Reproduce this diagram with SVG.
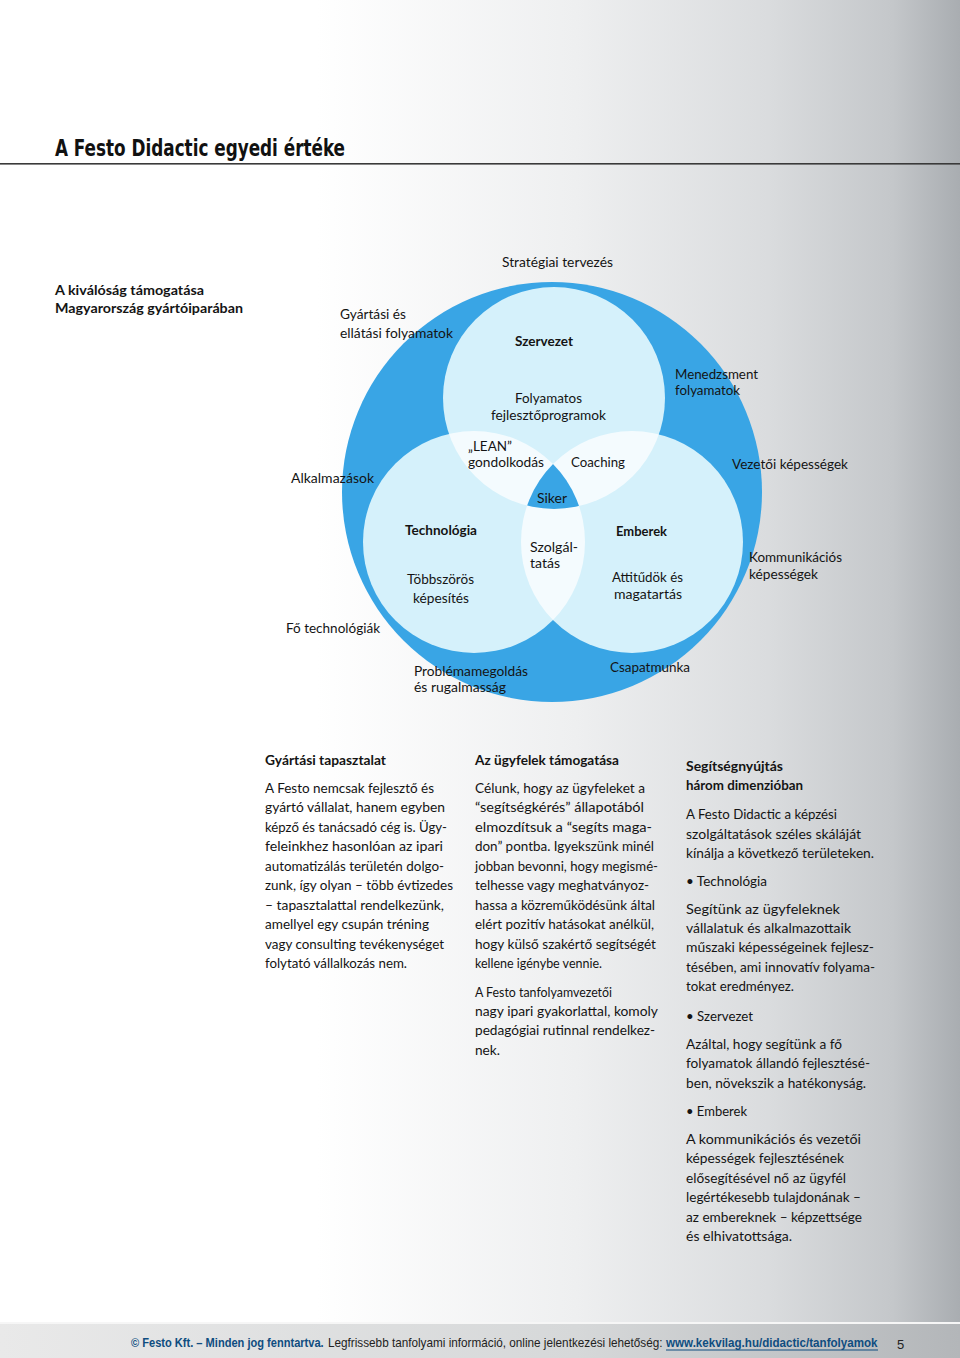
<svg xmlns="http://www.w3.org/2000/svg" width="960" height="1358" viewBox="0 0 960 1358">
<defs>
<linearGradient id="bg" x1="0" y1="0" x2="1" y2="0">
<stop offset="0" stop-color="#ffffff"/>
<stop offset="0.33" stop-color="#ffffff"/>
<stop offset="0.6" stop-color="#eeeff0"/>
<stop offset="0.8" stop-color="#dadcde"/>
<stop offset="0.93" stop-color="#c4c7ca"/>
<stop offset="1" stop-color="#a9adb1"/>
</linearGradient>
<linearGradient id="foot" x1="0" y1="0" x2="1" y2="0">
<stop offset="0" stop-color="#e9e9e9"/>
<stop offset="0.6" stop-color="#d6d8d9"/>
<stop offset="1" stop-color="#b3b6b9"/>
</linearGradient>
<clipPath id="cT"><circle cx="554" cy="398" r="111"/></clipPath>
<clipPath id="cL"><circle cx="474" cy="542" r="111"/></clipPath>
<clipPath id="cR"><circle cx="632" cy="542" r="111"/></clipPath>
<style>
text{font-family:Lato,"Liberation Sans",sans-serif;font-size:13.3px;fill:#141414}
.b{font-weight:bold}
.title{font-family:"Liberation Sans Narrow","DejaVu Sans Condensed","Liberation Sans",sans-serif;font-weight:bold;font-size:23px;fill:#111}
.ring{fill:#39a5e5}
.lt{fill:#d5f1fb}
.wh{fill:#f4fbfe}
.ft{font-family:"Liberation Sans","DejaVu Sans",sans-serif;font-size:13px;fill:#222}
.fb{font-weight:bold;fill:#0f4d80}
</style>
</defs>
<rect x="0" y="0" width="960" height="1358" fill="url(#bg)"/>
<g id="footer-band">
<rect x="0" y="1322" width="960" height="2" fill="#f6f6f6"/>
<rect x="0" y="1324" width="960" height="34" fill="url(#foot)"/>
</g>
<g id="header">
<text class="title" x="55" y="156" textLength="290" lengthAdjust="spacingAndGlyphs">A Festo Didactic egyedi értéke</text>
<rect x="0" y="163" width="960" height="1.6" fill="#3a3a3a"/>
<text class="b" x="55" y="295" textLength="149" lengthAdjust="spacingAndGlyphs">A kiválóság támogatása</text>
<text class="b" x="55" y="313" textLength="188" lengthAdjust="spacingAndGlyphs">Magyarország gyártóiparában</text>
</g>
<g id="venn">
<circle class="ring" cx="552" cy="492" r="210"/>
<circle class="lt" cx="554" cy="398" r="111"/>
<circle class="lt" cx="474" cy="542" r="111"/>
<circle class="lt" cx="632" cy="542" r="111"/>
<g clip-path="url(#cT)"><circle class="wh" cx="474" cy="542" r="111"/><circle class="wh" cx="632" cy="542" r="111"/></g>
<g clip-path="url(#cL)"><circle class="wh" cx="632" cy="542" r="111"/></g>
<g clip-path="url(#cT)"><g clip-path="url(#cL)"><circle class="ring" cx="632" cy="542" r="111"/></g></g>
</g>
<g id="venn-labels">
<text x="502" y="267" textLength="111" lengthAdjust="spacingAndGlyphs">Stratégiai tervezés</text>
<text x="340" y="319" textLength="66" lengthAdjust="spacingAndGlyphs">Gyártási és</text>
<text x="340" y="338" textLength="113" lengthAdjust="spacingAndGlyphs">ellátási folyamatok</text>
<text class="b" x="515" y="346" textLength="58" lengthAdjust="spacingAndGlyphs">Szervezet</text>
<text x="675" y="379" textLength="83" lengthAdjust="spacingAndGlyphs">Menedzsment</text>
<text x="675" y="395" textLength="65" lengthAdjust="spacingAndGlyphs">folyamatok</text>
<text x="515" y="403" textLength="67" lengthAdjust="spacingAndGlyphs">Folyamatos</text>
<text x="491" y="420" textLength="115" lengthAdjust="spacingAndGlyphs">fejlesztőprogramok</text>
<text x="468" y="451" textLength="44" lengthAdjust="spacingAndGlyphs">„LEAN”</text>
<text x="468" y="467" textLength="76" lengthAdjust="spacingAndGlyphs">gondolkodás</text>
<text x="571" y="467" textLength="54" lengthAdjust="spacingAndGlyphs">Coaching</text>
<text x="291" y="483" textLength="83" lengthAdjust="spacingAndGlyphs">Alkalmazások</text>
<text x="732" y="469" textLength="116" lengthAdjust="spacingAndGlyphs">Vezetői képességek</text>
<text x="537" y="503" textLength="30" lengthAdjust="spacingAndGlyphs">Siker</text>
<text class="b" x="405" y="535" textLength="72" lengthAdjust="spacingAndGlyphs">Technológia</text>
<text class="b" x="616" y="536" textLength="51" lengthAdjust="spacingAndGlyphs">Emberek</text>
<text x="530" y="552" textLength="48" lengthAdjust="spacingAndGlyphs">Szolgál-</text>
<text x="530" y="568" textLength="30" lengthAdjust="spacingAndGlyphs">tatás</text>
<text x="749" y="562" textLength="93" lengthAdjust="spacingAndGlyphs">Kommunikációs</text>
<text x="749" y="579" textLength="69" lengthAdjust="spacingAndGlyphs">képességek</text>
<text x="407" y="584" textLength="67" lengthAdjust="spacingAndGlyphs">Többszörös</text>
<text x="413" y="603" textLength="56" lengthAdjust="spacingAndGlyphs">képesítés</text>
<text x="612" y="582" textLength="71" lengthAdjust="spacingAndGlyphs">Attitűdök és</text>
<text x="614" y="599" textLength="68" lengthAdjust="spacingAndGlyphs">magatartás</text>
<text x="286" y="633" textLength="94" lengthAdjust="spacingAndGlyphs">Fő technológiák</text>
<text x="414" y="676" textLength="114" lengthAdjust="spacingAndGlyphs">Problémamegoldás</text>
<text x="414" y="692" textLength="92" lengthAdjust="spacingAndGlyphs">és rugalmasság</text>
<text x="610" y="672" textLength="80" lengthAdjust="spacingAndGlyphs">Csapatmunka</text>
</g>
<g id="col1">
<text class="b" x="265" y="765" textLength="121" lengthAdjust="spacingAndGlyphs">Gyártási tapasztalat</text>
<text x="265" y="793" textLength="169" lengthAdjust="spacingAndGlyphs">A Festo nemcsak fejlesztő és</text>
<text x="265" y="812.4" textLength="180" lengthAdjust="spacingAndGlyphs">gyártó vállalat, hanem egyben</text>
<text x="265" y="831.9" textLength="182" lengthAdjust="spacingAndGlyphs">képző és tanácsadó cég is. Ügy-</text>
<text x="265" y="851.3" textLength="178" lengthAdjust="spacingAndGlyphs">feleinkhez hasonlóan az ipari</text>
<text x="265" y="870.8" textLength="179" lengthAdjust="spacingAndGlyphs">automatizálás területén dolgo-</text>
<text x="265" y="890.2" textLength="188" lengthAdjust="spacingAndGlyphs">zunk, így olyan – több évtizedes</text>
<text x="265" y="909.7" textLength="179" lengthAdjust="spacingAndGlyphs">– tapasztalattal rendelkezünk,</text>
<text x="265" y="929.1" textLength="164" lengthAdjust="spacingAndGlyphs">amellyel egy csupán tréning</text>
<text x="265" y="948.5" textLength="179" lengthAdjust="spacingAndGlyphs">vagy consulting tevékenységet</text>
<text x="265" y="968" textLength="142" lengthAdjust="spacingAndGlyphs">folytató vállalkozás nem.</text>
</g>
<g id="col2">
<text class="b" x="475" y="765" textLength="144" lengthAdjust="spacingAndGlyphs">Az ügyfelek támogatása</text>
<text x="475" y="793" textLength="170" lengthAdjust="spacingAndGlyphs">Célunk, hogy az ügyfeleket a</text>
<text x="475" y="812.4" textLength="169" lengthAdjust="spacingAndGlyphs">“segítségkérés” állapotából</text>
<text x="475" y="831.9" textLength="177" lengthAdjust="spacingAndGlyphs">elmozdítsuk a “segíts maga-</text>
<text x="475" y="851.3" textLength="179" lengthAdjust="spacingAndGlyphs">don” pontba. Igyekszünk minél</text>
<text x="475" y="870.8" textLength="183" lengthAdjust="spacingAndGlyphs">jobban bevonni, hogy megismé-</text>
<text x="475" y="890.2" textLength="174" lengthAdjust="spacingAndGlyphs">telhesse vagy meghatványoz-</text>
<text x="475" y="909.7" textLength="180" lengthAdjust="spacingAndGlyphs">hassa a közreműködésünk által</text>
<text x="475" y="929.1" textLength="179" lengthAdjust="spacingAndGlyphs">elért pozitív hatásokat anélkül,</text>
<text x="475" y="948.5" textLength="181" lengthAdjust="spacingAndGlyphs">hogy külső szakértő segítségét</text>
<text x="475" y="968" textLength="127" lengthAdjust="spacingAndGlyphs">kellene igénybe vennie.</text>
<text x="475" y="996.5" textLength="137" lengthAdjust="spacingAndGlyphs">A Festo tanfolyamvezetői</text>
<text x="475" y="1015.9" textLength="183" lengthAdjust="spacingAndGlyphs">nagy ipari gyakorlattal, komoly</text>
<text x="475" y="1035.4" textLength="180" lengthAdjust="spacingAndGlyphs">pedagógiai rutinnal rendelkez-</text>
<text x="475" y="1054.8" textLength="25" lengthAdjust="spacingAndGlyphs">nek.</text>
</g>
<g id="col3">
<text class="b" x="686" y="771" textLength="97" lengthAdjust="spacingAndGlyphs">Segítségnyújtás</text>
<text class="b" x="686" y="790" textLength="117" lengthAdjust="spacingAndGlyphs">három dimenzióban</text>
<text x="686" y="819" textLength="151" lengthAdjust="spacingAndGlyphs">A Festo Didactic a képzési</text>
<text x="686" y="838.5" textLength="175" lengthAdjust="spacingAndGlyphs">szolgáltatások széles skáláját</text>
<text x="686" y="858" textLength="188" lengthAdjust="spacingAndGlyphs">kínálja a következő területeken.</text>
<text x="686" y="886" textLength="81" lengthAdjust="spacingAndGlyphs">• Technológia</text>
<text x="686" y="913.5" textLength="154" lengthAdjust="spacingAndGlyphs">Segítünk az ügyfeleknek</text>
<text x="686" y="932.9" textLength="165" lengthAdjust="spacingAndGlyphs">vállalatuk és alkalmazottaik</text>
<text x="686" y="952.3" textLength="188" lengthAdjust="spacingAndGlyphs">műszaki képességeinek fejlesz-</text>
<text x="686" y="971.7" textLength="189" lengthAdjust="spacingAndGlyphs">tésében, ami innovatív folyama-</text>
<text x="686" y="991.1" textLength="108" lengthAdjust="spacingAndGlyphs">tokat eredményez.</text>
<text x="686" y="1021" textLength="67" lengthAdjust="spacingAndGlyphs">• Szervezet</text>
<text x="686" y="1049" textLength="156" lengthAdjust="spacingAndGlyphs">Azáltal, hogy segítünk a fő</text>
<text x="686" y="1068.4" textLength="184" lengthAdjust="spacingAndGlyphs">folyamatok állandó fejlesztésé-</text>
<text x="686" y="1087.8" textLength="180" lengthAdjust="spacingAndGlyphs">ben, növekszik a hatékonyság.</text>
<text x="686" y="1116" textLength="61" lengthAdjust="spacingAndGlyphs">• Emberek</text>
<text x="686" y="1144" textLength="175" lengthAdjust="spacingAndGlyphs">A kommunikációs és vezetői</text>
<text x="686" y="1163.4" textLength="158" lengthAdjust="spacingAndGlyphs">képességek fejlesztésének</text>
<text x="686" y="1182.8" textLength="160" lengthAdjust="spacingAndGlyphs">elősegítésével nő az ügyfél</text>
<text x="686" y="1202.2" textLength="175" lengthAdjust="spacingAndGlyphs">legértékesebb tulajdonának –</text>
<text x="686" y="1221.6" textLength="176" lengthAdjust="spacingAndGlyphs">az embereknek – képzettsége</text>
<text x="686" y="1241" textLength="106" lengthAdjust="spacingAndGlyphs">és elhivatottsága.</text>
</g>
<g id="footer">
<text class="ft fb" transform="matrix(0.82 0 0 1 131 1347)" x="0" y="0" textLength="235" lengthAdjust="spacingAndGlyphs">© Festo Kft. – Minden jog fenntartva.</text>
<text class="ft" transform="matrix(0.82 0 0 1 328 1347)" x="0" y="0" textLength="408" lengthAdjust="spacingAndGlyphs">Legfrissebb tanfolyami információ, online jelentkezési lehetőség:</text>
<text class="ft fb" transform="matrix(0.82 0 0 1 666 1347)" x="0" y="0" textLength="258" lengthAdjust="spacingAndGlyphs">www.kekvilag.hu/didactic/tanfolyamok</text>
<rect x="666" y="1349.5" width="212" height="1" fill="#0f4d80"/>
<text class="ft" x="897" y="1349" font-size="15">5</text>
</g>
</svg>
